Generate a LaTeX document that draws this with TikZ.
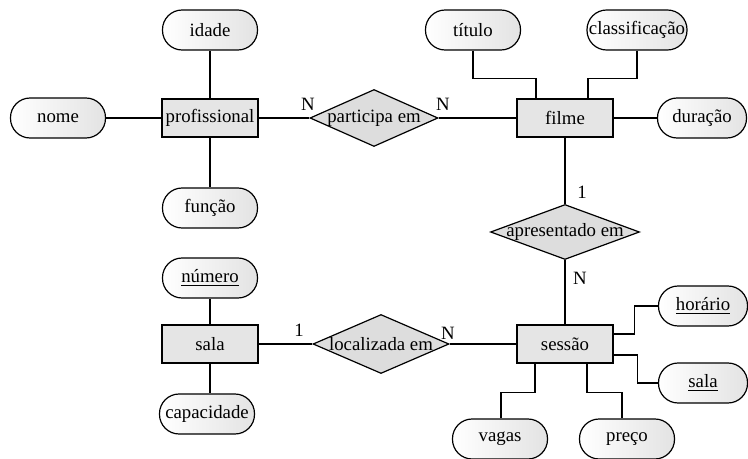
\documentclass[tikz,border=0pt]{standalone}
\usepackage{fontspec}
\setmainfont{Liberation Serif}
\usetikzlibrary{shapes.geometric}
\tikzset{
  entity/.style={draw, fill=gray!20, rectangle, minimum width=48pt, minimum height=19pt, inner sep=0pt},
  attrib/.style={draw, rectangle, rounded corners=9.8pt, left color=white, right color=gray!22, minimum width=47.5pt, minimum height=20pt, inner sep=0pt},
  relation/.style={draw, fill=gray!27, diamond, inner sep=0pt},
  card/.style={inner sep=0pt}
}
\newcommand{\relname}[1]{\makebox[0pt]{#1}}
\begin{document}
\begin{tikzpicture}[x=0.5pt,y=-0.5pt,line width=0.6pt,font=\fontsize{9.4}{11}\selectfont]
\useasboundingbox (0,0) rectangle (748,459);

\node[entity] (profissional) at (210,118) {profissional};
\node[attrib] (idade) at (210,30) {idade};
\node[attrib] (nome) at (58,118) {nome};
\node[attrib] (funcao) at (210,208) {função};
\node[relation, minimum width=64pt, minimum height=28.5pt] (participa) at (374,118) {\relname{participa em}};

\node[entity] (filme) at (565,118) {filme};
\node[attrib] (titulo) at (473,30) {título};
\node[attrib, minimum width=50pt] (classificacao) at (637,30) {classificação};
\node[attrib, minimum width=44.5pt] (duracao) at (702,118) {duração};
\node[relation, minimum width=74.5pt, minimum height=27.5pt] (apresentado) at (565,232) {\relname{apresentado em}};

\node[entity] (sessao) at (565,344) {sessão};
\node[attrib, minimum width=44.5pt] (horario) at (703,306) {\underline{horário}};
\node[attrib, minimum width=44.5pt] (salaattr) at (703,383) {\underline{sala}};
\node[attrib] (vagas) at (500,439) {vagas};
\node[attrib] (preco) at (627,439) {preço};

\node[entity] (sala) at (210,344) {sala};
\node[attrib] (numero) at (210,278) {\underline{número}};
\node[attrib] (capacidade) at (207,414) {capacidade};
\node[relation, minimum width=68pt, minimum height=29.5pt] (localizada) at (381,344) {\relname{localizada em}};

\draw (profissional) -- (idade);
\draw (profissional) -- (nome);
\draw (profissional) -- (funcao);
\draw (profissional) -- (participa);
\draw (participa) -- (filme);

\draw (titulo.south) -- ++(0,28) -| ([xshift=-14.5pt]filme.north);
\draw (classificacao.south) -- ++(0,28) -| ([xshift=11.5pt]filme.north);
\draw (filme) -- (duracao);
\draw (filme.south) -- (apresentado.north);
\draw (apresentado.south) -- (sessao.north);

\draw ([yshift=5pt]sessao.east) -- ++(21,0) |- (horario.west);
\draw ([yshift=-5.5pt]sessao.east) -- ++(24,0) |- (salaattr.west);
\draw ([xshift=-15pt]sessao.south) -- ++(0,29) -| ([xshift=0.5pt]vagas.north);
\draw ([xshift=11pt]sessao.south) -- ++(0,29) -| ([xshift=-2.5pt]preco.north);

\draw (sala) -- (numero);
\draw (sala.south) -- (sala.south |- capacidade.north);
\draw (sala) -- (localizada);
\draw (localizada) -- (sessao);

\node[card] (n1) at (308,104) {N};
\node[card] (n2) at (443,104) {N};
\node[card] (n3) at (582,192) {1};
\node[card] (n4) at (580,278) {N};
\node[card] (n5) at (299,330) {1};
\node[card] (n6) at (448,333) {N};
\end{tikzpicture}
\end{document}
